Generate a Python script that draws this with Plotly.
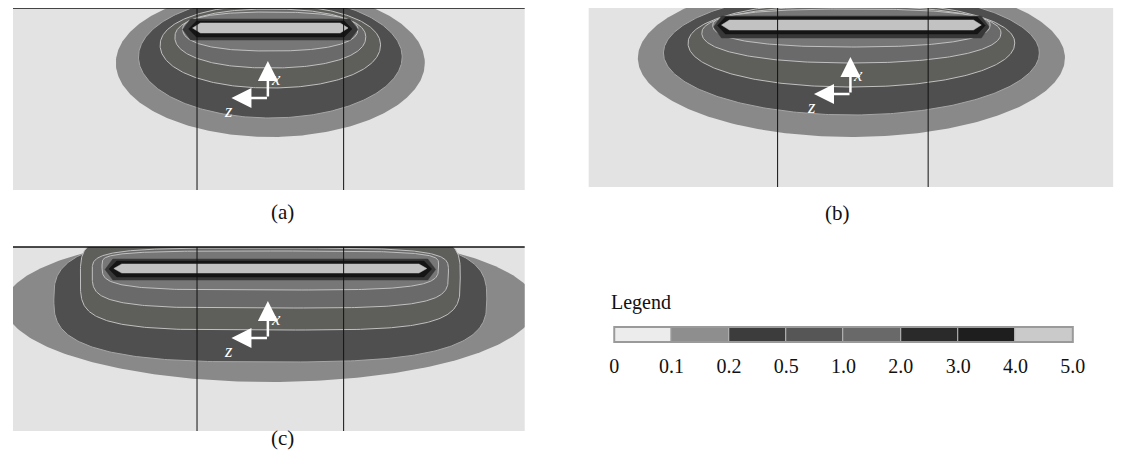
import numpy as np
import plotly.graph_objects as go

# ---------------- data (px-scale units) ----------------
legend_levels = ["0", "0.1", "0.2", "0.5", "1.0", "2.0", "3.0", "4.0", "5.0"]
legend_colours = ["#ececec", "#8e8e8e", "#3c3c3c", "#565656", "#696969",
                  "#2a2a2a", "#1e1e1e", "#cacaca"]

# contour bands (outer -> inner): half-width, centre depth, top depth, bottom depth, squareness
band_halfwidth_a = [157, 134, 112, 97, 89]
band_centre_a = [56, 50, 38, 30, 22]
band_top_a = [-18, -11, -2, 2, 5]
band_bottom_a = [130, 111, 81, 61, 44]
band_power_a = [2, 2, 2.1, 2.2, 2.4]

band_halfwidth_b = [217, 191, 166, 152, 141]
band_centre_b = [53, 48, 38, 28, 20]
band_top_b = [-26, -14, -3, 1, 4]
band_bottom_b = [132, 110, 82, 58, 42]
band_power_b = [2, 2, 2.1, 2.2, 2.4]

band_halfwidth_c = [270, 220, 193, 181, 171]
band_centre_c = [58, 52, 31, 25, 18]
band_top_c = [-15, -12, -20, 1, 4]
band_bottom_c = [135, 115, 83, 61, 43]
band_power_c = [2, 3, 4, 4, 4]

# high-value core (2.0-3.0 ring, 3.0-4.0 ring, 4.0-5.0 interior): half-length, top, bottom depth
core_halfwidth_a = [89, 83, 79]
core_top_a = [12, 14, 16]
core_bottom_a = [33, 30, 26]

core_halfwidth_b = [140, 136, 132]
core_top_b = [11, 12, 15]
core_bottom_b = [33, 29, 25]

core_halfwidth_c = [168, 164, 159]
core_top_c = [12, 14, 17]
core_bottom_c = [33, 30, 26]

cut_lines_a = [-74.5, 74.5]
cut_lines_b = [-75, 78]
cut_lines_c = [-74.5, 74.5]

# ---------------- styles / layout ----------------
W, H = 1128, 470
OFF = 8  # the page body adds an 8 px margin around the figure
BG = "#e3e3e3"
band_colours = ["#898989", "#4f4f4f", "#5e5e5a", "#6a6a6a", "#777777"]
band_lines = [None, "#a5a5a5", "#c0c0c0", "#c0c0c0", "#c0c0c0"]
core_colours = ["#383838", "#151515", "#c2c2c2"]
SERIF = "Liberation Serif"

panels = [
    dict(name="(a)", left=8, right=528, top=7, bottom=190, cx=269.5, topline=True,
         hw=band_halfwidth_a, cc=band_centre_a, tp=band_top_a, bt=band_bottom_a, pw=band_power_a,
         khw=core_halfwidth_a, kt=core_top_a, kb=core_bottom_a, cuts=cut_lines_a,
         origin=(-2.5, 91), label_x=268, label_y=212),
    dict(name="(b)", left=593, right=1126, top=5, bottom=187, cx=860, topline=False,
         hw=band_halfwidth_b, cc=band_centre_b, tp=band_top_b, bt=band_bottom_b, pw=band_power_b,
         khw=core_halfwidth_b, kt=core_top_b, kb=core_bottom_b, cuts=cut_lines_b,
         origin=(-1, 89), label_x=861, label_y=213),
    dict(name="(c)", left=8, right=528, top=247, bottom=431, cx=269.5, topline=True,
         hw=band_halfwidth_c, cc=band_centre_c, tp=band_top_c, bt=band_bottom_c, pw=band_power_c,
         khw=core_halfwidth_c, kt=core_top_c, kb=core_bottom_c, cuts=cut_lines_c,
         origin=(-2.5, 91), label_x=268, label_y=452),
]

fig = go.Figure()
shapes = []
annotations = []
theta = np.linspace(0, 2 * np.pi, 361)


def px(xp):
    return min(max((xp - OFF) / W, 0), 1)


def py(yp):
    return min(max(1 - (yp - OFF) / H, 0), 1)


def band_outline(a, c, top, bottom, p):
    cs, sn = np.cos(theta), np.sin(theta)
    xs = a * np.sign(cs) * np.abs(cs) ** (2 / p)
    semi = np.where(sn >= 0, bottom - c, c - top)
    ys = c + semi * np.sign(sn) * np.abs(sn) ** (2 / p)
    return xs, ys


for i, p in enumerate(panels):
    k = "" if i == 0 else str(i + 1)
    xa, ya = "x" + k, "y" + k
    depth = p["bottom"] - p["top"]
    vis_top = max(p["top"], OFF)
    shapes.append(dict(type="rect", xref="paper", yref="paper", layer="below",
                       x0=px(p["left"]), x1=px(p["right"]), y0=py(p["bottom"]), y1=py(vis_top),
                       fillcolor=BG, line=dict(width=0)))
    for j in range(len(p["hw"])):
        xs, ys = band_outline(p["hw"][j], p["cc"][j], p["tp"][j], p["bt"][j], p["pw"][j])
        lc = band_lines[j]
        fig.add_trace(go.Scatter(x=xs, y=ys, xaxis=xa, yaxis=ya, mode="lines", fill="toself",
                                 fillcolor=band_colours[j],
                                 line=dict(color=lc if lc else band_colours[j], width=1 if lc else 0),
                                 hoverinfo="skip", showlegend=False))
    for j in range(len(p["khw"])):
        a, t, bt = p["khw"][j], p["kt"][j], p["kb"][j]
        m = (t + bt) / 2
        kx = 8
        xs = [-a, -a + kx, a - kx, a, a - kx, -a + kx, -a]
        ys = [m, t, t, m, bt, bt, m]
        fig.add_trace(go.Scatter(x=xs, y=ys, xaxis=xa, yaxis=ya, mode="lines", fill="toself",
                                 fillcolor=core_colours[j],
                                 line=dict(color=core_colours[j], width=0.5),
                                 hoverinfo="skip", showlegend=False))
    xl, xr = p["left"] - p["cx"], p["right"] - p["cx"]
    fig.update_layout(**{
        ("xaxis" + k): dict(domain=[px(p["left"]), px(p["right"])], range=[xl, xr],
                            visible=False, anchor=ya),
        ("yaxis" + k): dict(domain=[py(p["bottom"]), py(vis_top)], range=[depth, vis_top - p["top"]],
                            visible=False, anchor=xa),
    })
    for z in p["cuts"]:
        shapes.append(dict(type="line", xref=xa, yref=ya, x0=z, x1=z, y0=vis_top - p["top"], y1=depth,
                           line=dict(color="#111111", width=1)))
    if p["topline"]:
        shapes.append(dict(type="line", xref="paper", yref="paper",
                           x0=px(p["left"]), x1=px(p["right"]), y0=py(p["top"]), y1=py(p["top"]),
                           line=dict(color="#111111", width=1.5)))
    ox, oy = p["origin"]
    L = 37
    for hx, hy, tx, ty in [(ox, oy - L, 0, L), (ox - L, oy, L, 0)]:
        annotations.append(dict(xref=xa, yref=ya, x=hx, y=hy, ax=tx, ay=ty, text="",
                                showarrow=True, arrowhead=2, arrowsize=1.6, arrowwidth=2.5,
                                arrowcolor="white"))
    annotations.append(dict(xref=xa, yref=ya, x=ox + 8, y=oy - 20, text="<i>x</i>", showarrow=False,
                            font=dict(family=SERIF, size=19, color="white")))
    annotations.append(dict(xref=xa, yref=ya, x=ox - 40, y=oy + 12, text="<i>z</i>", showarrow=False,
                            font=dict(family=SERIF, size=19, color="white")))
    annotations.append(dict(xref="paper", yref="paper", x=px(p["label_x"]), y=py(p["label_y"]),
                            text=p["name"], showarrow=False,
                            font=dict(family=SERIF, size=21, color="#111111")))

# ---------------- legend bar ----------------
n = len(legend_colours)
fig.add_trace(go.Bar(x=[1] * n, base=list(range(n)), y=[0] * n, orientation="h", width=1,
                     marker=dict(color=legend_colours, line=dict(color="#b5b5b5", width=1)),
                     xaxis="x4", yaxis="y4", hoverinfo="skip", showlegend=False))
lb_left, lb_right, lb_top, lb_bottom = 619, 1085, 327, 342
fig.update_layout(
    xaxis4=dict(domain=[px(lb_left), px(lb_right)], range=[0, n], anchor="y4",
                tickvals=list(range(n + 1)), ticktext=legend_levels, showgrid=False,
                zeroline=False, showline=False, ticks="outside", ticklen=6,
                tickcolor="rgba(0,0,0,0)",
                tickfont=dict(family=SERIF, size=20, color="#111111")),
    yaxis4=dict(domain=[py(lb_bottom), py(lb_top)], range=[-0.5, 0.5], anchor="x4",
                visible=False),
)
shapes.append(dict(type="rect", xref="paper", yref="paper",
                   x0=px(lb_left), x1=px(lb_right), y0=py(lb_bottom), y1=py(lb_top),
                   line=dict(color="#9a9a9a", width=2)))
annotations.append(dict(xref="paper", yref="paper", x=px(614), y=py(302), xanchor="left",
                        text="Legend", showarrow=False,
                        font=dict(family=SERIF, size=20, color="#111111")))

fig.update_layout(width=W, height=H, margin=dict(l=0, r=0, t=0, b=0),
                  paper_bgcolor="white", plot_bgcolor="rgba(0,0,0,0)",
                  shapes=shapes, annotations=annotations, bargap=0)
fig.write_html("out.html")
